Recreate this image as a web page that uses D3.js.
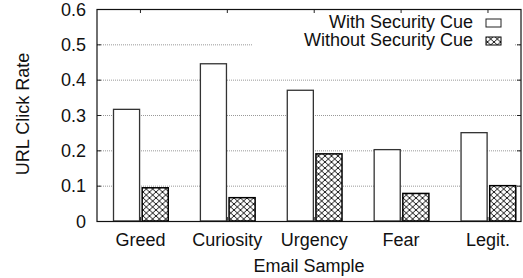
<!DOCTYPE html>
<meta charset="utf-8">
<html>
<body style="margin:0;background:#fff">
<div id="chartContainer"></div>
<script src="https://d3js.org/d3.v7.min.js"></script>
<script type="text/javascript">

  var categories = ["Greed", "Curiosity", "Urgency", "Fear", "Legit."];
  var withCue = [0.316, 0.445, 0.370, 0.202, 0.250];
  var withoutCue = [0.094, 0.066, 0.190, 0.078, 0.100];
  var yTicks = [0, 0.1, 0.2, 0.3, 0.4, 0.5, 0.6];
  var seriesNames = ["With Security Cue", "Without Security Cue"];

  var W = 523, H = 278;
  // plot box ("top" is taken by window, so use p* names)
  var pLeft = 97, pRight = 521, pTop = 9, pBottom = 221;

  var svg = d3.select("#chartContainer").append("svg")
    .attr("width", W).attr("height", H)
    .style("font-family", "'Liberation Sans', Arial, sans-serif")
    .style("font-size", "18px");

  var x = d3.scaleLinear().domain([-0.5, 4.38]).range([pLeft, pRight]);
  var y = d3.scaleLinear().domain([0, 0.6]).range([pBottom, pTop]);

  // crosshatch pattern
  var pat = svg.append("defs").append("pattern")
    .attr("id", "hatch").attr("patternUnits", "userSpaceOnUse")
    .attr("width", 6.5).attr("height", 6);
  pat.append("rect").attr("width", 6.5).attr("height", 6).attr("fill", "#fff");
  pat.append("path").attr("d", "M0,0L6.5,6M6.5,0L0,6")
    .attr("stroke", "#000").attr("stroke-width", 0.9);

  // grid
  svg.selectAll(".grid").data(yTicks.slice(1, 6)).enter().append("line")
    .attr("x1", pLeft).attr("x2", pRight)
    .attr("y1", function (d) { return y(d) + 0.5; })
    .attr("y2", function (d) { return y(d) + 0.5; })
    .attr("stroke", "#999").attr("stroke-width", 1)
    .attr("stroke-dasharray", "1,1");

  // bars
  svg.selectAll(".barA").data(withCue).enter().append("rect")
    .attr("x", function (d, i) { return x(i - 0.31); })
    .attr("width", function (d, i) { return x(i - 0.01) - x(i - 0.31); })
    .attr("y", function (d) { return y(d); })
    .attr("height", function (d) { return y(0) - y(d); })
    .attr("fill", "#fff").attr("stroke", "#333").attr("stroke-width", 1.3);

  svg.selectAll(".barB").data(withoutCue).enter().append("rect")
    .attr("x", function (d, i) { return x(i + 0.02); })
    .attr("width", function (d, i) { return x(i + 0.32) - x(i + 0.02); })
    .attr("y", function (d) { return y(d); })
    .attr("height", function (d) { return y(0) - y(d); })
    .attr("fill", "url(#hatch)").attr("stroke", "#000").attr("stroke-width", 1.5);

  // legend background hides the grid
  svg.append("rect").attr("x", 253).attr("y", 13).attr("width", 261).attr("height", 37)
    .attr("fill", "#fff");

  // ticks, mirrored on both sides
  var tk = svg.append("g").attr("stroke", "#222").attr("stroke-width", 1);
  yTicks.forEach(function (d) {
    tk.append("line").attr("x1", pLeft).attr("x2", pLeft + 4)
      .attr("y1", y(d) + 0.5).attr("y2", y(d) + 0.5);
    tk.append("line").attr("x1", pRight - 4).attr("x2", pRight)
      .attr("y1", y(d) + 0.5).attr("y2", y(d) + 0.5);
  });
  categories.forEach(function (c, i) {
    tk.append("line").attr("x1", x(i)).attr("x2", x(i))
      .attr("y1", pBottom).attr("y2", pBottom - 4);
    tk.append("line").attr("x1", x(i)).attr("x2", x(i))
      .attr("y1", pTop).attr("y2", pTop + 4);
  });

  // border
  svg.append("rect").attr("x", pLeft).attr("y", pTop + 0.5)
    .attr("width", pRight - pLeft).attr("height", pBottom - pTop)
    .attr("fill", "none").attr("stroke", "#111").attr("stroke-width", 1.2);

  function label(tx, ty, s, anchor) {
    return svg.append("text").attr("x", tx).attr("y", ty)
      .attr("text-anchor", anchor).attr("fill", "#111").text(s);
  }

  // y tick labels
  yTicks.forEach(function (d) {
    label(86, y(d) + 6.5, d === 0 ? "0" : d3.format(".1f")(d), "end");
  });

  // x tick labels
  categories.forEach(function (c, i) { label(x(i), 246, c, "middle"); });

  // axis titles
  label((pLeft + pRight) / 2, 272, "Email Sample", "middle");
  svg.append("text")
    .attr("transform", "translate(28.5,114) rotate(-90)")
    .attr("text-anchor", "middle").attr("fill", "#111").text("URL Click Rate");

  // legend
  label(473, 28, seriesNames[0], "end");
  label(473, 45.5, seriesNames[1], "end");
  svg.append("rect").attr("x", 486).attr("y", 19).attr("width", 15).attr("height", 8)
    .attr("fill", "#fff").attr("stroke", "#222").attr("stroke-width", 1);
  svg.append("rect").attr("x", 486).attr("y", 37).attr("width", 15).attr("height", 8)
    .attr("fill", "url(#hatch)").attr("stroke", "#000").attr("stroke-width", 1);

</script>
</body>
</html>
